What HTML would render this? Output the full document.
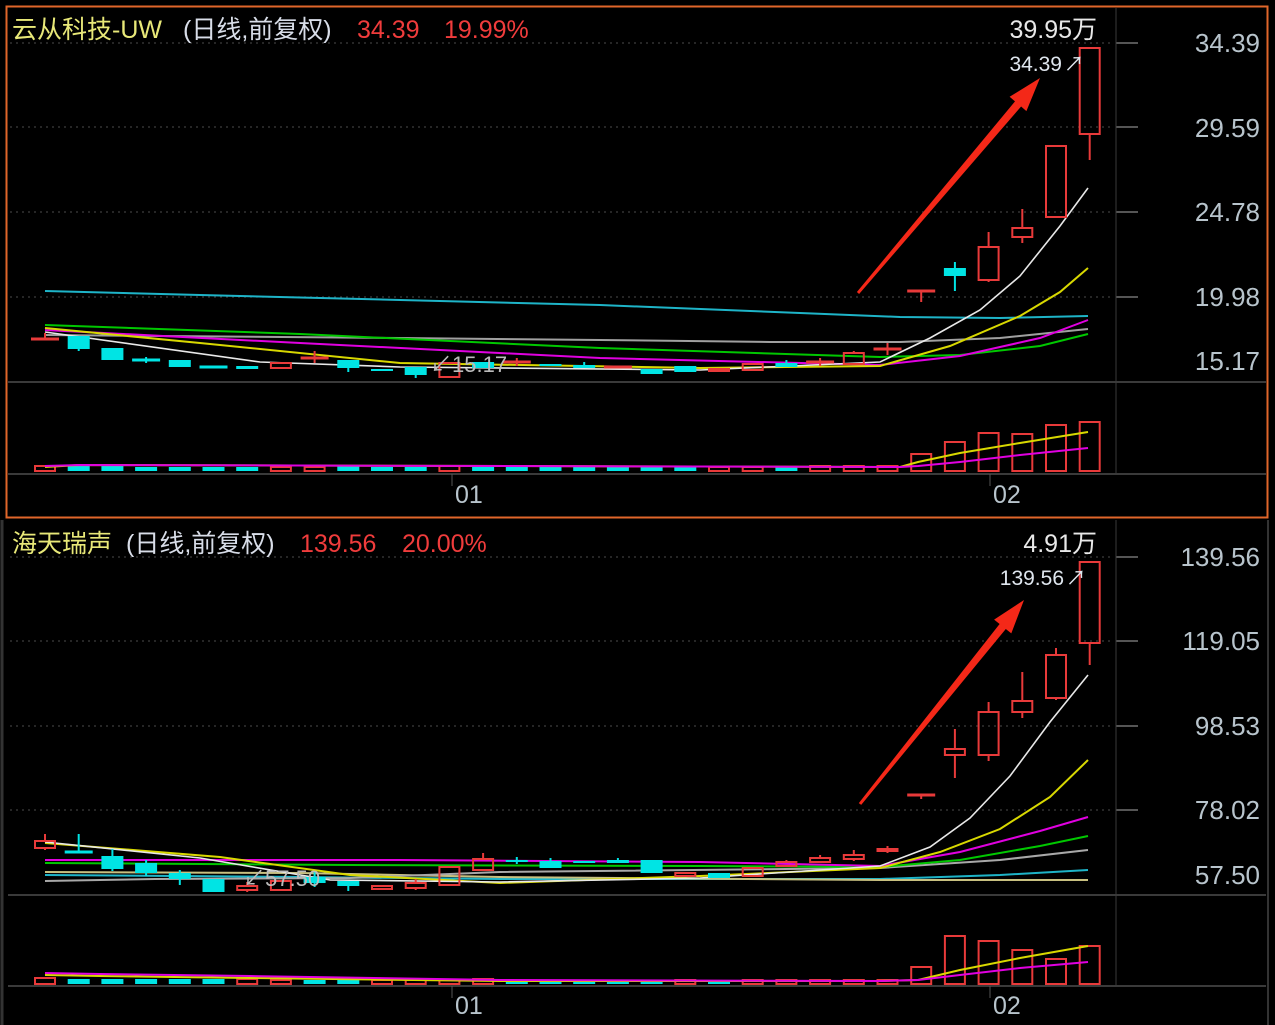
<!DOCTYPE html>
<html><head><meta charset="utf-8"><style>
html,body{margin:0;padding:0;background:#000;width:1275px;height:1025px;overflow:hidden}
svg{display:block}
text{font-family:"Liberation Sans","Noto Sans CJK SC",sans-serif}
</style></head><body>
<svg id="s" width="1275" height="1025" xmlns="http://www.w3.org/2000/svg">
<rect width="1275" height="1025" fill="#000"/>
<g id="g"></g>
<rect x="6.5" y="6.5" width="1261" height="511" fill="none" stroke="#e0662a" stroke-width="2"/>
<line x1="2" y1="520" x2="2" y2="1025" stroke="#333" stroke-width="3"/>
<line x1="1268" y1="520" x2="1268" y2="1025" stroke="#333" stroke-width="2"/>
<line x1="1116" y1="8" x2="1116" y2="474" stroke="#3a3a3a"/>
<line x1="1116" y1="520" x2="1116" y2="985" stroke="#3a3a3a"/>
<line x1="8" y1="382" x2="1266" y2="382" stroke="#3a3a3a" stroke-width="2"/>
<line x1="8" y1="474" x2="1266" y2="474" stroke="#3a3a3a" stroke-width="2"/>
<line x1="8" y1="895" x2="1266" y2="895" stroke="#3a3a3a" stroke-width="2"/>
<line x1="8" y1="986" x2="1266" y2="986" stroke="#3a3a3a" stroke-width="2"/>
<line x1="452" y1="474" x2="452" y2="486" stroke="#555"/>
<line x1="990" y1="474" x2="990" y2="486" stroke="#555"/>
<line x1="452" y1="986" x2="452" y2="998" stroke="#555"/>
<line x1="990" y1="986" x2="990" y2="998" stroke="#555"/>
<g font-size="25" fill="#b8c4cc">
<text x="455" y="503">01</text><text x="993" y="503">02</text>
<text x="455" y="1014">01</text><text x="993" y="1014">02</text>
</g>
<g font-size="26" fill="#b8c4cc" text-anchor="end">
<text x="1260" y="52">34.39</text><text x="1260" y="137">29.59</text><text x="1260" y="221">24.78</text><text x="1260" y="306">19.98</text><text x="1260" y="370">15.17</text>
<text x="1260" y="566">139.56</text><text x="1260" y="650">119.05</text><text x="1260" y="735">98.53</text><text x="1260" y="819">78.02</text><text x="1260" y="884">57.50</text>
</g>
<g font-size="25">
<text x="12" y="38" fill="#e8e878">云从科技-UW</text>
<text x="183" y="38" fill="#d8dde8">(日线,前复权)</text>
<text x="357" y="38" fill="#f03c3c">34.39</text>
<text x="444" y="38" fill="#f03c3c">19.99%</text>
<text x="12" y="552" fill="#e8e878">海天瑞声</text>
<text x="126" y="552" fill="#d8dde8">(日线,前复权)</text>
<text x="300" y="552" fill="#f03c3c">139.56</text>
<text x="402" y="552" fill="#f03c3c">20.00%</text>
<text x="1097" y="38" fill="#e8e8e8" text-anchor="end">39.95万</text>
<text x="1097" y="552" fill="#e8e8e8" text-anchor="end">4.91万</text>
</g>
<text x="1062" y="71" font-size="21" fill="#dfe6ee" text-anchor="end">34.39</text><text x="1064" y="71" font-size="20" fill="#dfe6ee">↗</text>
<text x="1064" y="585" font-size="21" fill="#dfe6ee" text-anchor="end">139.56</text><text x="1066" y="585" font-size="20" fill="#dfe6ee">↗</text>
<text x="430" y="372" font-size="22" fill="#bbb">↙15.17</text>
<text x="243" y="886" font-size="22" fill="#bbb">↙57.50</text>
</svg>
<script>
var g=document.getElementById('g'),h='';
function X(i){return 45+33.7*i;}
function L(x1,y1,x2,y2,c,w,d){h+='<line x1="'+x1+'" y1="'+y1+'" x2="'+x2+'" y2="'+y2+'" stroke="'+c+'" stroke-width="'+(w||1)+'"'+(d?' stroke-dasharray="'+d+'"':'')+'/>';}
function P(pts,c,w){h+='<polyline fill="none" stroke="'+c+'" stroke-width="'+(w||1.6)+'" points="'+pts.map(function(p){return p[0]+','+p[1]}).join(' ')+'"/>';}
[43,127,212,297].forEach(function(y){L(10,y,1112,y,'#3c3c3c',1.2,'2 4');L(1116,y,1138,y,'#555',2);});
[557,641,726,810].forEach(function(y){L(10,y,1112,y,'#3c3c3c',1.2,'2 4');L(1116,y,1138,y,'#555',2);});
function C(list){list.forEach(function(k,i){var x=X(i),t=k[0],a=Math.min(k[1],k[2]),b=Math.max(k[1],k[2]),hi=k[3]||a,lo=k[4]||b;
var col=t=='r'?'#e83a3a':'#00e4e4';
if(hi<a)L(x,hi,x,a,col,2);if(lo>b)L(x,b,x,lo,col,2);
if(b-a<2){L(x-14,a,x+14,a,col,3);}
else if(t=='r')h+='<rect x="'+(x-10)+'" y="'+a+'" width="20" height="'+(b-a)+'" fill="none" stroke="'+col+'" stroke-width="2"/>';
else h+='<rect x="'+(x-11)+'" y="'+a+'" width="22" height="'+(b-a)+'" fill="'+col+'"/>';});}
P([[45,291],[200,295],[400,300],[600,305],[800,313],[900,317],[1000,318],[1088,316]],'#1eb4c8',2);
P([[45,335],[400,338],[600,340],[770,342],[900,342],[1000,338],[1088,329]],'#a0a0a0',2);
P([[45,325],[300,334],[600,348],[880,357],[960,355],[1040,346],[1088,334]],'#00c800',2);
P([[45,330],[300,343],[600,358],[880,365],[960,356],[1040,338],[1088,320]],'#e000e0',2);
P([[45,328],[200,343],[400,363],[700,368],[880,366],[950,346],[1020,316],[1060,292],[1088,268]],'#d8d800',2);
P([[45,332],[260,362],[400,367],[700,370],[880,362],[930,338],[980,310],[1020,276],[1060,226],[1088,188]],'#e8e8e8',1.6);
C([['r',339,339,333],['c',336,349,0,351],['c',348,360],['c',360,360,357,363],['c',360,367],['c',367,367],['c',366,369],['r',363,368],['r',358,358,351,363],['c',360,368,0,372],['c',369,371],['c',367,375,0,378],['r',363,377],['c',362,368],['r',362,362,358,366],['c',364,366],
['c',365,368,362],['r',367,367],['c',369,374],['c',366,372],['r',369,371],['r',364,370],['c',363,367,360],['r',362,362,358,366],['r',353,364,351],['r',349,349,343,355],['r',291,291,291,302],['c',268,276,262,291],['r',247,280,232,282],['r',228,237,209,243],['r',146,217],['r',48,134,48,160]]);
var tv=[466,466,466,467,467,467,467,467,467,466,467,467,466,467,467,467,467,467,467,467,467,467,467,466,466,466,454,442,433,434,425,422];
tv.forEach(function(y,i){var x=X(i),r=(i==0||i==7||i==8||i==12||i>=20&&i!=22)?1:0;
if(r)h+='<rect x="'+(x-10)+'" y="'+y+'" width="20" height="'+(471-y)+'" fill="none" stroke="#e83a3a" stroke-width="2"/>';else h+='<rect x="'+(x-11)+'" y="'+y+'" width="22" height="'+(471-y)+'" fill="#00e4e4"/>';});
P([[45,467],[80,465],[900,467],[918,462],[960,453],[1020,443],[1088,432]],'#d8d800',2);
P([[45,466],[80,465],[900,467],[918,466],[960,462],[1020,455],[1088,448]],'#e000e0',2);
P([[45,875],[300,877],[500,879],[880,879],[1000,875],[1088,870]],'#1eb4c8',2);
P([[45,872],[300,873],[500,877],[880,880],[1088,880]],'#c8c080',2);
P([[45,881],[155,879],[350,878],[500,872],[880,868],[1000,860],[1088,850]],'#a8a8a8',2);
P([[45,863],[350,865],[700,866],[880,867],[960,860],[1040,846],[1088,836]],'#00c800',2);
P([[45,860],[400,860],[700,862],[880,866],[960,852],[1040,831],[1088,817]],'#e000e0',2);
P([[45,843],[220,857],[350,875],[500,883],[700,876],[880,868],[940,852],[1000,829],[1050,797],[1088,760]],'#d8d800',2);
P([[45,842],[200,858],[330,880],[500,882],[700,878],[880,866],[930,847],[970,818],[1010,776],[1050,722],[1088,675]],'#e8e8e8',1.6);
C([['r',841,848,834,850],['c',852,852,834,853],['c',856,869,849,871],['c',863,873,860,876],['c',873,879,870,885],['c',879,892],['r',886,890,882,892],['r',881,890],['c',877,883,872,887],['c',881,886,0,891],['r',886,889],['r',883,888,879,890],['r',867,885],['r',859,870,853],['c',860,862,857,864],['c',861,868,858],
['c',861,863],['c',860,863,858],['c',860,873],['r',873,876],['c',873,878],['r',868,876],['r',862,866,860],['r',858,862,855],['r',855,859,850,861],['r',849,851,846,853],['r',795,795,795,799],['r',749,755,729,778],['r',712,755,702,761],['r',701,712,672,718],['r',655,698,648,700],['r',562,643,562,665]]);
var bv=[978,979,979,979,979,979,979,980,980,980,980,980,980,979,980,980,980,980,980,980,980,980,980,980,980,980,967,936,941,950,959,946];
bv.forEach(function(y,i){var x=X(i),r=[0,6,7,10,11,12,13,19,21,22,23,24,25].indexOf(i)>=0||i>=26;
if(r)h+='<rect x="'+(x-10)+'" y="'+y+'" width="20" height="'+(984-y)+'" fill="none" stroke="#e83a3a" stroke-width="2"/>';else h+='<rect x="'+(x-11)+'" y="'+y+'" width="22" height="'+(984-y)+'" fill="#00e4e4"/>';});
P([[45,975],[100,976],[250,978],[500,981],[880,981],[918,980],[960,970],[1020,958],[1088,946]],'#d8d800',2);
P([[45,973],[100,974],[250,976],[500,980],[880,981],[918,980],[960,975],[1020,968],[1088,962]],'#e000e0',2);
function A(x1,y1,x2,y2){var dx=x2-x1,dy=y2-y1,l=Math.sqrt(dx*dx+dy*dy),ux=dx/l,uy=dy/l,px=-uy,py=ux;
var bx=x2-ux*34,by=y2-uy*34;
h+='<polygon fill="#f42818" points="'+[[x1+px*1.5,y1+py*1.5],[bx+px*4,by+py*4],[bx+px*11,by+py*11],[x2,y2],[bx-px*11,by-py*11],[bx-px*4,by-py*4],[x1-px*1.5,y1-py*1.5]].map(function(p){return p[0].toFixed(1)+','+p[1].toFixed(1)}).join(' ')+'"/>';}
A(858,293,1040,78);A(860,804,1024,600);
g.innerHTML=h;
</script>
</body></html>
